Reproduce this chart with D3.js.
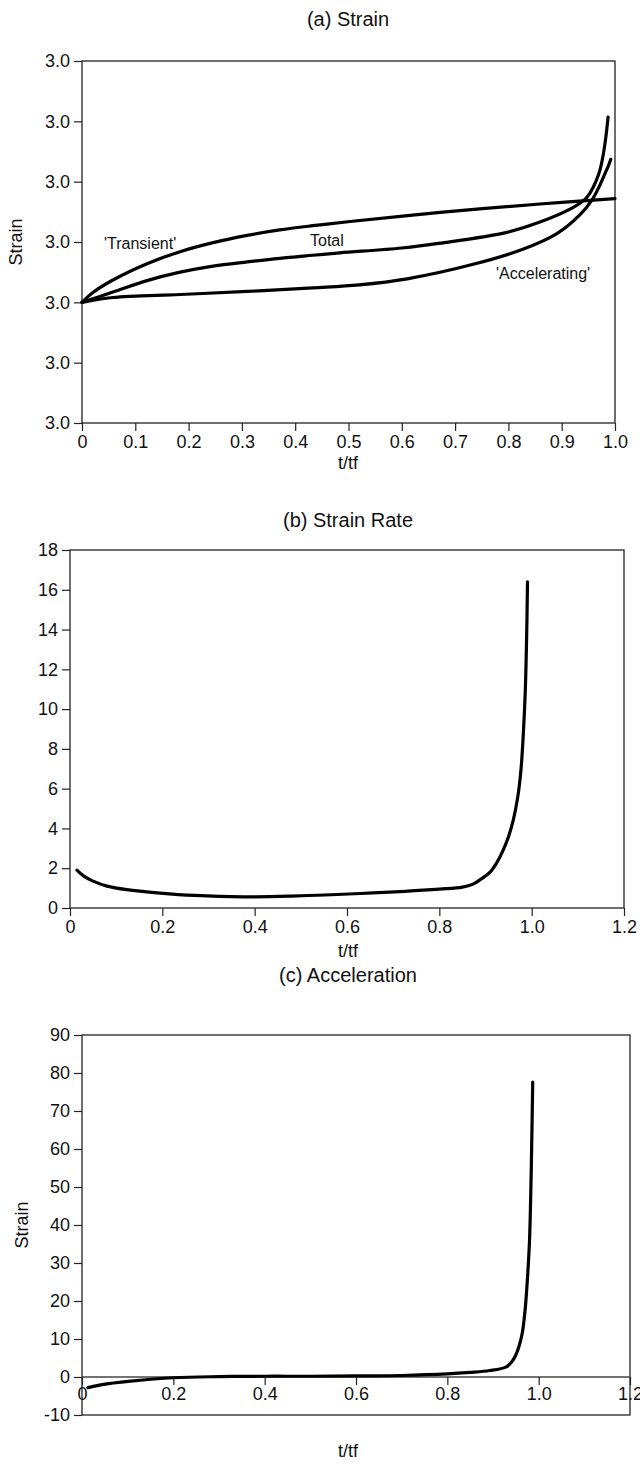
<!DOCTYPE html>
<html lang="en">
<head>
<meta charset="UTF-8">
<title>Strain, strain rate, acceleration</title>
<style>
  body { margin: 0; background: #fff; }
  svg text { font-family: "Liberation Sans", Arial, Helvetica, sans-serif; fill: #111; }
</style>
<script src="https://d3js.org/d3.v7.min.js"></script>
</head>
<body>
<div id="chart"></div>
<script>
// ---- data ----
// (a) strain, three curves vs t/tf
const transientT = [0, 0.02, 0.058, 0.122, 0.184, 0.246, 0.31, 0.371, 0.433, 0.503, 0.672, 0.859, 1.0];
const transientV = [2.9900, 2.9916, 2.9937, 2.9964, 2.9984, 2.9999, 3.0011, 3.0020, 3.0027, 3.0034, 3.0049, 3.0063, 3.0072];
const totalT = [0, 0.058, 0.122, 0.184, 0.246, 0.31, 0.371, 0.433, 0.484, 0.6, 0.672, 0.797, 0.859, 0.921, 0.944, 0.953, 0.964, 0.972, 0.978, 0.983, 0.987];
const totalV = [2.9900, 2.9917, 2.9936, 2.9950, 2.9960, 2.9967, 2.9973, 2.9978, 2.9982, 2.9990, 2.9998, 3.0016, 3.0033, 3.0057, 3.0071, 3.0081, 3.0100, 3.0120, 3.0145, 3.0175, 3.0207];
const accelT = [0, 0.058, 0.184, 0.31, 0.433, 0.52, 0.61, 0.734, 0.827, 0.891, 0.934, 0.957, 0.972, 0.982, 0.988, 0.992];
const accelV = [2.9900, 2.9908, 2.9913, 2.9918, 2.9924, 2.9929, 2.9939, 2.9963, 2.9988, 3.0014, 3.0045, 3.0070, 3.0095, 3.0115, 3.0127, 3.0137];
const strainTicks = [2.97, 2.98, 2.99, 3.00, 3.01, 3.02, 3.03];
const xTicksA = [0, 0.1, 0.2, 0.3, 0.4, 0.5, 0.6, 0.7, 0.8, 0.9, 1.0];
const xLabelsA = ["0", "0.1", "0.2", "0.3", "0.4", "0.5", "0.6", "0.7", "0.8", "0.9", "1.0"];

// (b) strain rate
const rateT = [0.015, 0.03, 0.05, 0.08, 0.123, 0.195, 0.27, 0.375, 0.48, 0.63, 0.8, 0.85, 0.873, 0.89, 0.91, 0.925, 0.938, 0.95, 0.96, 0.97, 0.977, 0.982, 0.986, 0.989, 0.991];
const rateV = [1.9, 1.6, 1.35, 1.1, 0.92, 0.75, 0.63, 0.56, 0.6, 0.73, 0.95, 1.05, 1.2, 1.45, 1.8, 2.3, 2.9, 3.6, 4.4, 5.6, 7.0, 8.8, 10.8, 13.5, 16.4];
const rateTicks = [0, 2, 4, 6, 8, 10, 12, 14, 16, 18];

// (c) acceleration
const accT = [0.013, 0.044, 0.107, 0.2, 0.3, 0.4, 0.5, 0.6, 0.7, 0.8, 0.85, 0.893, 0.928, 0.94, 0.95, 0.958, 0.964, 0.968, 0.972, 0.976, 0.98, 0.983, 0.985, 0.987];
const accV = [-2.8, -2.0, -1.1, -0.2, 0.1, 0.2, 0.2, 0.3, 0.4, 0.8, 1.2, 1.7, 2.6, 3.8, 5.8, 8.5, 11.5, 15, 20, 27, 36, 50, 63, 77.6];
const accTicks = [-10, 0, 10, 20, 30, 40, 50, 60, 70, 80, 90];

const xTicksBC = [0, 0.2, 0.4, 0.6, 0.8, 1.0, 1.2];
const xLabelsBC = ["0", "0.2", "0.4", "0.6", "0.8", "1.0", "1.2"];

const zip = (a, b) => a.map((d, i) => [d, b[i]]);

const svg = d3.select("#chart").append("svg")
  .attr("width", 640).attr("height", 1466);

const tickFont = 18;

function styleAxis(g) {
  g.select(".domain").remove();
  g.selectAll(".tick line").attr("stroke", "#222").attr("stroke-width", 1.2);
  g.selectAll(".tick text").attr("font-size", tickFont).attr("fill", "#111")
    .style("font-family", '"Liberation Sans", Arial, sans-serif');
}

function frame(x0, x1, y0, y1) {
  svg.append("rect")
    .attr("x", x0).attr("y", y0)
    .attr("width", x1 - x0).attr("height", y1 - y0)
    .attr("fill", "none").attr("stroke", "#222").attr("stroke-width", 1.3);
}

function curve(x, y, pts) {
  const line = d3.line().x(d => x(d[0])).y(d => y(d[1])).curve(d3.curveCatmullRom.alpha(0.5));
  svg.append("path").datum(pts)
    .attr("d", line)
    .attr("fill", "none").attr("stroke", "#000")
    .attr("stroke-width", 3.2).attr("stroke-linecap", "round");
}

function title(txt, y) {
  svg.append("text").attr("x", 348).attr("y", y)
    .attr("text-anchor", "middle").attr("font-size", 20).text(txt);
}

// ---------- (a) Strain ----------
{
  const x = d3.scaleLinear([0, 1], [82, 615]);
  const y = d3.scaleLinear([2.97, 3.03], [423, 61]);
  title("(a) Strain", 26);
  frame(82, 615, 61, 423);
  svg.append("g").attr("transform", "translate(82,0)")
    .call(d3.axisLeft(y).tickValues(strainTicks).tickFormat(d3.format(".1f")).tickSize(8).tickPadding(4))
    .call(styleAxis);
  svg.append("g").attr("transform", "translate(0,423)")
    .call(d3.axisBottom(x).tickValues(xTicksA).tickFormat((d, i) => xLabelsA[i]).tickSize(8).tickPadding(4))
    .call(styleAxis);
  curve(x, y, zip(transientT, transientV));
  curve(x, y, zip(totalT, totalV));
  curve(x, y, zip(accelT, accelV));
  svg.append("text").attr("x", 104).attr("y", 249).attr("font-size", 16).text("'Transient'");
  svg.append("text").attr("x", 310).attr("y", 246).attr("font-size", 16).text("Total");
  svg.append("text").attr("x", 496).attr("y", 279).attr("font-size", 16).text("'Accelerating'");
  svg.append("text").attr("x", 348).attr("y", 469).attr("text-anchor", "middle").attr("font-size", 18).text("t/tf");
  svg.append("text").attr("transform", "translate(22,242) rotate(-90)")
    .attr("text-anchor", "middle").attr("font-size", 18).text("Strain");
}

// ---------- (b) Strain Rate ----------
{
  const x = d3.scaleLinear([0, 1.2], [70, 624]);
  const y = d3.scaleLinear([0, 18], [908, 550]);
  title("(b) Strain Rate", 527);
  frame(70, 624, 550, 908);
  svg.append("g").attr("transform", "translate(70,0)")
    .call(d3.axisLeft(y).tickValues(rateTicks).tickFormat(d => String(d)).tickSize(8).tickPadding(4))
    .call(styleAxis);
  svg.append("g").attr("transform", "translate(0,908)")
    .call(d3.axisBottom(x).tickValues(xTicksBC).tickFormat((d, i) => xLabelsBC[i]).tickSize(8).tickPadding(4))
    .call(styleAxis);
  curve(x, y, zip(rateT, rateV));
  svg.append("text").attr("x", 348).attr("y", 957).attr("text-anchor", "middle").attr("font-size", 18).text("t/tf");
}

// ---------- (c) Acceleration ----------
{
  const x = d3.scaleLinear([0, 1.2], [82, 630]);
  const y = d3.scaleLinear([-10, 90], [1415, 1035]);
  title("(c) Acceleration", 982);
  frame(82, 630, 1035, 1415);
  // plain hyphen for negatives, as in the original
  svg.append("g").attr("transform", "translate(82,0)")
    .call(d3.axisLeft(y).tickValues(accTicks).tickFormat(d => String(d)).tickSize(8).tickPadding(4))
    .call(styleAxis);
  svg.append("line")
    .attr("x1", 82).attr("x2", 630).attr("y1", y(0)).attr("y2", y(0))
    .attr("stroke", "#444").attr("stroke-width", 1.3);
  svg.append("g").attr("transform", `translate(0,${y(0)})`)
    .call(d3.axisBottom(x).tickValues(xTicksBC).tickFormat((d, i) => xLabelsBC[i]).tickSize(8).tickPadding(2))
    .call(styleAxis);
  curve(x, y, zip(accT, accV));
  svg.append("text").attr("x", 348).attr("y", 1457).attr("text-anchor", "middle").attr("font-size", 18).text("t/tf");
  svg.append("text").attr("transform", "translate(28,1225) rotate(-90)")
    .attr("text-anchor", "middle").attr("font-size", 18).text("Strain");
}
</script>
</body>
</html>
